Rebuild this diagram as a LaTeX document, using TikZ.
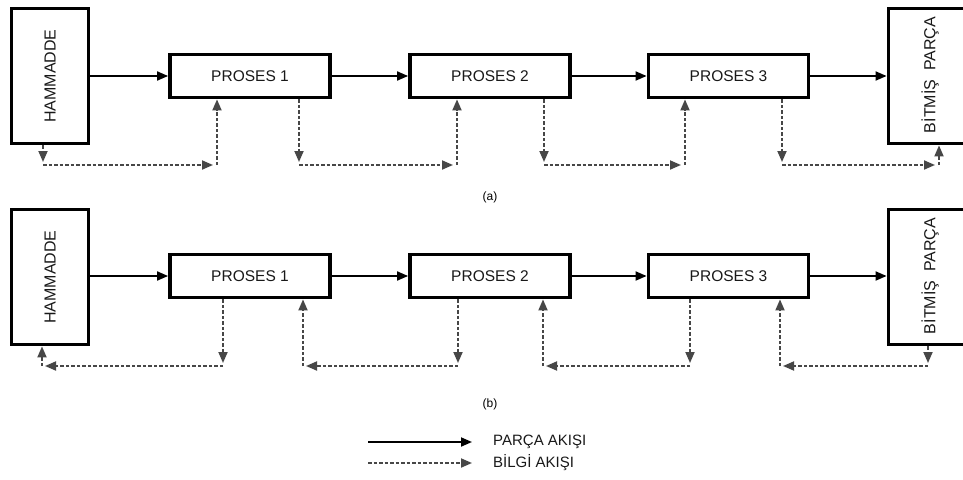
\documentclass[tikz,border=0pt]{standalone}
\usepackage{fontspec}
\setmainfont{Liberation Sans}
\usetikzlibrary{arrows.meta}
\begin{document}
\begin{tikzpicture}[x=1pt,y=-1pt,
  box/.style={draw=black,line width=3.8pt,fill=white,inner sep=0pt},
  proc/.style={box,minimum width=160pt,minimum height=43pt},
  endbox/.style={box,minimum width=77pt,minimum height=135pt},
  lbl/.style={font=\fontsize{15.5}{18}\selectfont,text=black!90,inner sep=0pt},
  vlbl/.style={font=\fontsize{16}{18}\selectfont,text=black!90,inner sep=0pt,rotate=90},
  flow/.style={line width=1.8pt,-{Triangle[length=11pt,width=9pt]}},
  info/.style={line width=1.8pt,black!72,dash pattern=on 3.5pt off 2pt,-{Triangle[length=11pt,width=9pt]}},
  captext/.style={font=\fontsize{12}{14}\selectfont,inner sep=0pt}]
\clip (0,0) rectangle (963,479);
\fill[white] (0,0) rectangle (963,479);

% ---------- (a) ----------
\node[endbox] (Ha) at (50,76) {};
\node[vlbl] (Hat) at (Ha) {HAMMADDE};
\node[proc] (P1a) at (250,76) {};
\node[lbl] (P1at) at (P1a) {PROSES 1};
\node[proc] (P2a) at (490,76) {};
\node[lbl] (P2at) at (P2a) {PROSES 2};
\node[proc] (P3a) at (728.5,76) {};
\node[lbl] (P3at) at (P3a) {PROSES 3};
\node[endbox,minimum width=95pt] (Ba) at (936,76) {};
\node[vlbl] (Bat) at (930,75) {BİTMİŞ\ \ PARÇA};

\draw[flow] (Ha) -- (P1a);
\draw[flow] (P1a) -- (P2a);
\draw[flow] (P2a) -- (P3a);
\draw[flow] (P3a) -- (Ba);

\coordinate (a1) at (43,165);  \coordinate (a2) at (217,165);
\coordinate (a3) at (299,165); \coordinate (a4) at (457,165);
\coordinate (a5) at (544,165); \coordinate (a6) at (685,165);
\coordinate (a7) at (782,165); \coordinate (a8) at (939,165);

\draw[info,shorten >=3pt] (Ha.south -| a1) -- (a1);
\draw[info,shorten >=4pt] (a1) -- (a2);
\draw[info] (a2) -- (P1a.south -| a2);
\draw[info,shorten >=3pt] (P1a.south -| a3) -- (a3);
\draw[info,shorten >=4pt] (a3) -- (a4);
\draw[info] (a4) -- (P2a.south -| a4);
\draw[info,shorten >=3pt] (P2a.south -| a5) -- (a5);
\draw[info,shorten >=4pt] (a5) -- (a6);
\draw[info] (a6) -- (P3a.south -| a6);
\draw[info,shorten >=3pt] (P3a.south -| a7) -- (a7);
\draw[info,shorten >=4pt] (a7) -- (a8);
\draw[info] (a8) -- (Ba.south -| a8);

\node[captext] (capa) at (490,197) {(a)};

% ---------- (b) ----------
\node[endbox] (Hb) at (50,277) {};
\node[vlbl] (Hbt) at (Hb) {HAMMADDE};
\node[proc] (P1b) at (250,276) {};
\node[lbl] (P1bt) at (P1b) {PROSES 1};
\node[proc] (P2b) at (490,276) {};
\node[lbl] (P2bt) at (P2b) {PROSES 2};
\node[proc] (P3b) at (728.5,276) {};
\node[lbl] (P3bt) at (P3b) {PROSES 3};
\node[endbox,minimum width=95pt] (Bb) at (936,277) {};
\node[vlbl] (Bbt) at (930,276) {BİTMİŞ\ \ PARÇA};

\draw[flow] (Hb.east |- P1b.west) -- (P1b.west);
\draw[flow] (P1b) -- (P2b);
\draw[flow] (P2b) -- (P3b);
\draw[flow] (P3b.east) -- (Bb.west |- P3b.east);

\coordinate (b1) at (223,366); \coordinate (b2) at (42,366);
\coordinate (b3) at (458,366); \coordinate (b4) at (303,366);
\coordinate (b5) at (690,366); \coordinate (b6) at (543,366);
\coordinate (b7) at (928,366); \coordinate (b8) at (780,366);

\draw[info,shorten >=3pt] (P1b.south -| b1) -- (b1);
\draw[info,shorten >=3pt] (b1) -- (b2);
\draw[info] (b2) -- (Hb.south -| b2);
\draw[info,shorten >=3pt] (P2b.south -| b3) -- (b3);
\draw[info,shorten >=3pt] (b3) -- (b4);
\draw[info] (b4) -- (P1b.south -| b4);
\draw[info,shorten >=3pt] (P3b.south -| b5) -- (b5);
\draw[info,shorten >=3pt] (b5) -- (b6);
\draw[info] (b6) -- (P2b.south -| b6);
\draw[info,shorten >=3pt] (Bb.south -| b7) -- (b7);
\draw[info,shorten >=3pt] (b7) -- (b8);
\draw[info] (b8) -- (P3b.south -| b8);

\node[captext] (capb) at (490,404) {(b)};

% ---------- legend ----------
\coordinate (l1s) at (368,442); \coordinate (l1e) at (472,442);
\coordinate (l2s) at (368,463); \coordinate (l2e) at (472,463);
\draw[flow] (l1s) -- (l1e);
\draw[info] (l2s) -- (l2e);
\node[lbl,anchor=west,font=\fontsize{15}{17}\selectfont] (t1) at (493,442) {PARÇA AKIŞI};
\node[lbl,anchor=west,font=\fontsize{15}{17}\selectfont] (t2) at (493,463) {BİLGİ AKIŞI};
\end{tikzpicture}
\end{document}
